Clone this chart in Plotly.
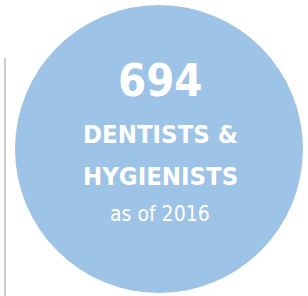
import plotly.graph_objects as go

# Data
count_value = 694
label_lines = ["DENTISTS &", "HYGIENISTS"]
year_note = "as of 2016"

W, H = 308, 296
circle_color = "#9dc3e6"
text_color = "#ffffff"
font_cond = "DejaVu Sans Condensed, Arial Narrow, sans-serif"

fig = go.Figure()

fig.add_shape(type="circle", xref="x", yref="y", x0=15, x1=303, y0=5, y1=293,
              fillcolor=circle_color, line=dict(width=0), layer="below")
fig.add_shape(type="line", xref="x", yref="y", x0=5, x1=5, y0=58, y1=296,
              line=dict(color="#cccccc", width=2))

cx = 160
fig.add_annotation(x=cx, y=80.5, text=f"<b>{count_value}</b>", showarrow=False,
                   xanchor="center", yanchor="middle",
                   font=dict(family=font_cond, size=45, color=text_color))
for line, yc in zip(label_lines, [134, 176]):
    fig.add_annotation(x=cx, y=yc, text=f"<b>{line}</b>", showarrow=False,
                       xanchor="center", yanchor="middle",
                       font=dict(family=font_cond, size=25.5, color=text_color))
fig.add_annotation(x=cx, y=213.5, text=year_note, showarrow=False,
                   xanchor="center", yanchor="middle",
                   font=dict(family=font_cond, size=21, color=text_color))

fig.update_layout(width=W, height=H, margin=dict(l=0, r=0, t=0, b=0),
                  paper_bgcolor="white", plot_bgcolor="white", showlegend=False,
                  xaxis=dict(range=[0, W], visible=False, fixedrange=True),
                  yaxis=dict(range=[H, 0], visible=False, fixedrange=True))

fig.write_html("out.html", config={"displayModeBar": False},
               post_script="document.body.style.margin='0';document.body.style.padding='0';document.body.style.overflow='hidden';")
